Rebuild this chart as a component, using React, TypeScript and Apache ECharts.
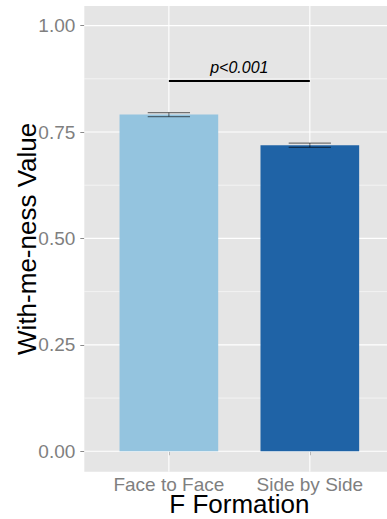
import React, { useEffect, useRef } from 'react';
import * as echarts from 'echarts';

// Formation groups and their mean with-me-ness (with standard errors)
const categories = ['Face to Face', 'Side by Side'];
const categoryPositions = [1, 2];
const meanValues = [0.791, 0.719];
const stdErrors = [0.0047, 0.005];
const barColors = ['#94C4DF', '#1F63A6'];

// Value axis ticks and minor grid positions
const yTickValues = [0, 0.25, 0.5, 0.75, 1.0];
const yMinorValues = [0.125, 0.375, 0.625, 0.875];

// Significance bracket between the two groups
const sigPair = [1, 2];
const sigLevel = 0.87;
const sigLabel = 'p<0.001';

const FONT = '"Liberation Sans", Arial, Helvetica, sans-serif';
const PANEL_BG = '#E5E5E5';

export default function App() {
  const ref = useRef<HTMLDivElement>(null);

  useEffect(() => {
    if (!ref.current) return;
    const chart = echarts.init(ref.current, undefined, { renderer: 'svg' });

    const hLine = (width: number) => (params: any, api: any) => {
      const cs = params.coordSys;
      const y = api.coord([categoryPositions[0], api.value(0)])[1];
      return {
        type: 'line',
        shape: { x1: cs.x, y1: y, x2: cs.x + cs.width, y2: y },
        style: { stroke: '#FFFFFF', lineWidth: width },
        silent: true,
      };
    };

    const option: any = {
      animation: false,
      textStyle: { fontFamily: FONT },
      grid: {
        left: 84.3,
        right: -7.4,
        top: 6,
        bottom: 47.3,
        outerBoundsMode: 'none',
        containLabel: false,
        show: true,
        backgroundColor: PANEL_BG,
        borderWidth: 0,
      },
      xAxis: {
        type: 'value',
        min: 0.4,
        max: 2.6,
        name: 'F Formation',
        nameLocation: 'middle',
        nameGap: 19.5,
        nameMoveOverlap: false,
        nameTextStyle: { fontSize: 26, color: '#000000', fontFamily: FONT },
        axisLine: { show: false },
        splitLine: { show: false },
        axisTick: {
          show: true,
          customValues: categoryPositions,
          length: 4,
          lineStyle: { color: '#8A8A8A', width: 1 },
        },
        axisLabel: {
          customValues: categoryPositions,
          formatter: (v: number) => categories[Math.round(v) - 1] ?? '',
          fontSize: 19,
          color: '#7F7F7F',
          margin: 3,
          fontFamily: FONT,
        },
      },
      yAxis: {
        type: 'value',
        min: -0.048,
        max: 1.046,
        name: 'With-me-ness Value',
        nameLocation: 'middle',
        nameGap: 44,
        nameMoveOverlap: false,
        nameTextStyle: { fontSize: 26, color: '#000000', fontFamily: FONT },
        axisLine: { show: false },
        splitLine: { show: false },
        axisTick: {
          show: true,
          customValues: yTickValues,
          length: 4,
          lineStyle: { color: '#8A8A8A', width: 1 },
        },
        axisLabel: {
          customValues: yTickValues,
          formatter: (v: number) => v.toFixed(2),
          fontSize: 19,
          color: '#7F7F7F',
          margin: 9,
          fontFamily: FONT,
        },
      },
      series: [
        {
          name: 'minor-grid',
          type: 'custom',
          z: 1,
          silent: true,
          data: yMinorValues.map((v) => [v]),
          encode: { y: 0 },
          renderItem: hLine(0.55),
        },
        {
          name: 'major-grid',
          type: 'custom',
          z: 1,
          silent: true,
          data: yTickValues.map((v) => [v]),
          encode: { y: 0 },
          renderItem: hLine(1.1),
        },
        {
          name: 'category-grid',
          type: 'custom',
          z: 1,
          silent: true,
          data: categoryPositions.map((v) => [v]),
          encode: { x: 0 },
          renderItem: (params: any, api: any) => {
            const cs = params.coordSys;
            const x = api.coord([api.value(0), 0])[0];
            return {
              type: 'line',
              shape: { x1: x, y1: cs.y, x2: x, y2: cs.y + cs.height },
              style: { stroke: '#FFFFFF', lineWidth: 1.1 },
              silent: true,
            };
          },
        },
        {
          name: 'mean',
          type: 'bar',
          z: 2,
          barWidth: '70%',
          data: categoryPositions.map((x, i) => ({
            value: [x, meanValues[i]],
            itemStyle: { color: barColors[i] },
          })),
        },
        {
          name: 'error',
          type: 'custom',
          z: 3,
          data: categoryPositions.map((x, i) => [
            x,
            meanValues[i] - stdErrors[i],
            meanValues[i] + stdErrors[i],
          ]),
          encode: { x: 0, y: [1, 2] },
          renderItem: (params: any, api: any) => {
            const x = api.value(0);
            const lo = api.coord([x, api.value(1)]);
            const hi = api.coord([x, api.value(2)]);
            const half = api.size([0.15, 0])[0];
            const style = { stroke: 'rgba(0,0,0,0.5)', lineWidth: 1.2 };
            return {
              type: 'group',
              children: [
                { type: 'line', shape: { x1: hi[0], y1: hi[1], x2: lo[0], y2: lo[1] }, style },
                { type: 'line', shape: { x1: hi[0] - half, y1: hi[1], x2: hi[0] + half, y2: hi[1] }, style },
                { type: 'line', shape: { x1: lo[0] - half, y1: lo[1], x2: lo[0] + half, y2: lo[1] }, style },
              ],
            };
          },
        },
        {
          name: 'significance',
          type: 'custom',
          z: 4,
          data: [[sigPair[0], sigPair[1], sigLevel]],
          encode: { x: [0, 1], y: 2 },
          renderItem: (params: any, api: any) => {
            const a = api.coord([api.value(0), api.value(2)]);
            const b = api.coord([api.value(1), api.value(2)]);
            return {
              type: 'group',
              children: [
                {
                  type: 'line',
                  shape: { x1: a[0], y1: a[1], x2: b[0], y2: b[1] },
                  style: { stroke: '#000000', lineWidth: 2 },
                },
                {
                  type: 'text',
                  x: (a[0] + b[0]) / 2,
                  y: a[1] - 5,
                  style: {
                    text: sigLabel,
                    fontSize: 16,
                    fontStyle: 'italic',
                    fontFamily: FONT,
                    fill: '#000000',
                    align: 'center',
                    verticalAlign: 'bottom',
                  },
                },
              ],
            };
          },
        },
      ],
    };

    chart.setOption(option);
    return () => chart.dispose();
  }, []);

  return (
    <div
      ref={ref}
      style={{ position: 'absolute', left: 0, top: 0, width: 387, height: 519 }}
    />
  );
}
